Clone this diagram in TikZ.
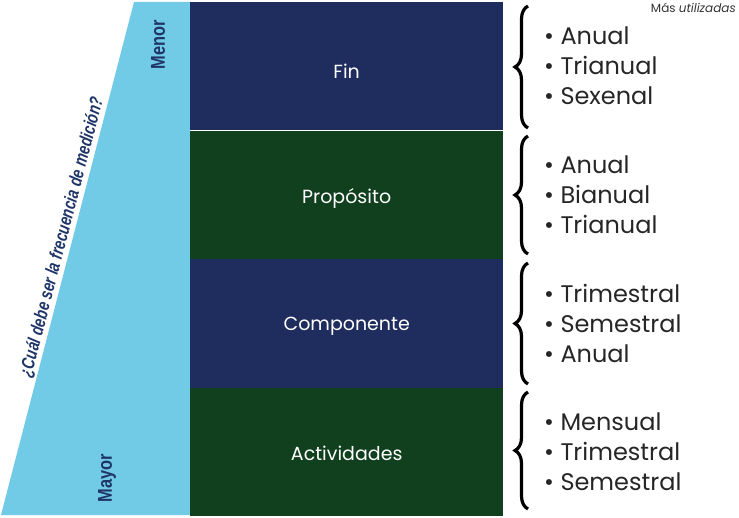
\documentclass[tikz,border=0pt]{standalone}
\usepackage{fontspec}
\setmainfont{Poppins}
\newfontfamily\qfont{Liberation Sans}
\usetikzlibrary{decorations.pathreplacing,calc}
\definecolor{lblue}{HTML}{71CBE7}
\definecolor{navy}{HTML}{1F2D5E}
\definecolor{dgreen}{HTML}{10401E}
\definecolor{labnavy}{HTML}{1F3568}
\tikzset{
  rowbox/.style={minimum width=313pt, minimum height=128.25pt, inner sep=0pt},
  rowlab/.style={text=white, inner sep=0pt, font=\fontsize{19}{22}\selectfont},
  cbrace/.style={draw=black, line width=3.2pt, decorate, decoration={brace, amplitude=13pt}},
  itemlist/.style={anchor=west, align=left, text=black!85, font=\fontsize{24}{30}\selectfont, inner sep=0pt},
  sidelab/.style={rotate=90, text=labnavy, font=\qfont\bfseries\fontsize{20}{22}\selectfont, inner sep=0pt}
}
\begin{document}
\begin{tikzpicture}[x=1pt,y=-1pt]
\useasboundingbox (0,0) rectangle (739,518);
% trapezoid
\fill[lblue] (134,2) coordinate (tl) -- (190,2) -- (190,515) -- (1,515) coordinate (bl) -- cycle;
% row boxes
\node[rowbox, fill=navy, anchor=north west] (fin) at (190,2) {};
\node[rowbox, fill=dgreen, anchor=north] (prop) at (fin.south) {};
\node[rowbox, fill=navy, anchor=north] (comp) at (prop.south) {};
\node[rowbox, fill=dgreen, anchor=north] (act) at (comp.south) {};
\node[rowlab] (finlab) at ($(fin.center)+(0,5)$) {Fin};
\node[rowlab] (proplab) at ($(prop.center)+(0,4)$) {Propósito};
\node[rowlab] (complab) at ($(comp.center)+(0,3)$) {Componente};
\node[rowlab] (actlab) at ($(act.center)+(0,1)$) {Actividades};
% side labels
\node[sidelab] (menor) at (158,45) {\scalebox{0.82}[1]{Menor}};
\node[sidelab] (mayor) at (107,478) {\scalebox{0.82}[1]{Mayor}};
\coordinate (qpt) at ($(tl)!0.464!(bl)$);
\node[rotate=75.5, anchor=south, inner sep=2pt, text=labnavy, font=\qfont\bfseries\itshape\fontsize{18.5}{20}\selectfont] (q) at (qpt) {\scalebox{0.77}[1]{¿Cuál debe ser la frecuencia de medición?}};
% braces
\coordinate (b1b) at (528,128); \coordinate (b1t) at (528,6);
\coordinate (b2b) at (528,254); \coordinate (b2t) at (528,136);
\coordinate (b3b) at (528,384); \coordinate (b3t) at (528,263);
\coordinate (b4b) at (528,509); \coordinate (b4t) at (528,392);
\draw[cbrace] (b1b) -- (b1t);
\draw[cbrace] (b2b) -- (b2t);
\draw[cbrace] (b3b) -- (b3t);
\draw[cbrace] (b4b) -- (b4t);
% lists
\node[itemlist] (l1) at (544,66) {• Anual\\• Trianual\\• Sexenal};
\node[itemlist] (l2) at (544,195) {• Anual\\• Bianual\\• Trianual};
\node[itemlist] (l3) at (544,323) {• Trimestral\\• Semestral\\• Anual};
\node[itemlist] (l4) at (544,452) {• Mensual\\• Trimestral\\• Semestral};
\node[anchor=north east, inner sep=1pt, text=black!80, font=\fontsize{12}{14}\selectfont] (mas) at (737,2) {Más \textit{utilizadas}};
\end{tikzpicture}
\end{document}
